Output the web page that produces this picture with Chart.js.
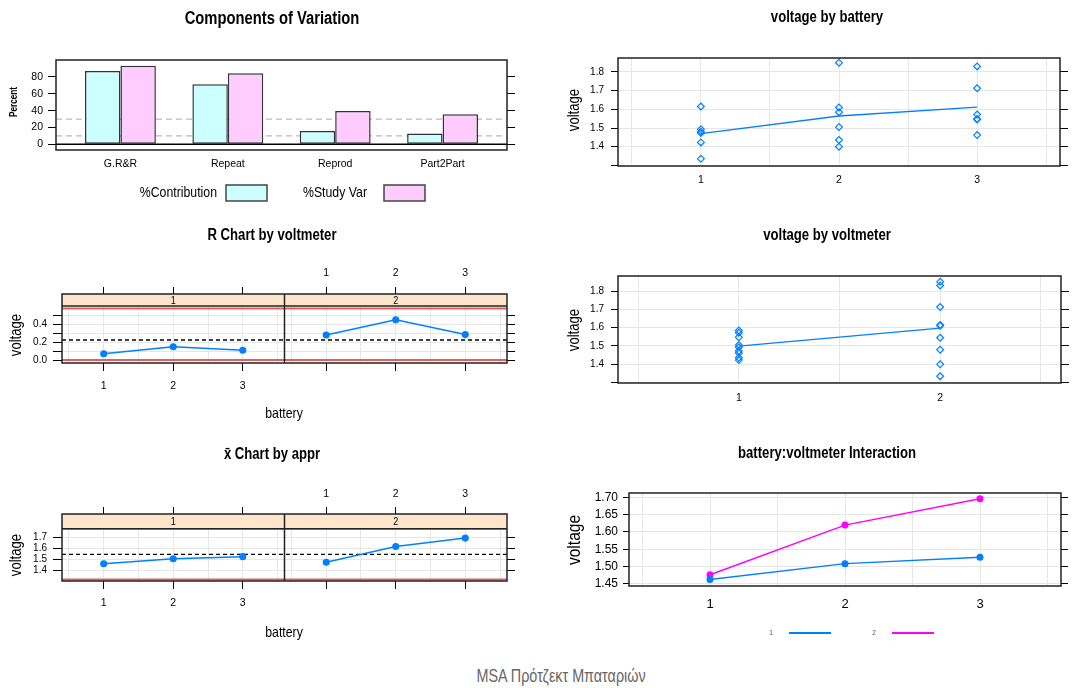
<!DOCTYPE html>
<html>
<head>
<meta charset="utf-8">
<script src="https://cdn.jsdelivr.net/npm/chart.js@4.4.1/dist/chart.umd.min.js"></script>
<style>
  body { margin: 0; background: #fff; width: 1084px; height: 688px; position: relative; overflow: hidden;
         font-family: "Liberation Sans", Arial, sans-serif; }
  canvas { position: absolute; }
  #footer { position: absolute; left: 0; width: 1122px; top: 666px; text-align: center; color: #666; font-size: 17.5px; }
  #footer span { display: inline-block; transform: scaleX(0.82); }
</style>
</head>
<body>
<canvas id="cov" width="540" height="215" style="left:0;top:0"></canvas>
<canvas id="byBattery" width="544" height="200" style="left:540px;top:0"></canvas>
<canvas id="rChart" width="540" height="220" style="left:0;top:220px"></canvas>
<canvas id="byMeter" width="544" height="200" style="left:540px;top:220px"></canvas>
<canvas id="xbarChart" width="540" height="215" style="left:0;top:440px"></canvas>
<canvas id="interaction" width="544" height="210" style="left:540px;top:440px"></canvas>
<div id="footer"><span>MSA Πρότζεκτ Μπαταριών</span></div>
<script>
// gauge study: 3 batteries, 2 voltmeters, 3 readings per cell
const batteries = [1, 2, 3];
const voltmeters = [1, 2];
const readingsVm1 = [[1.423, 1.473, 1.493], [1.436, 1.505, 1.585], [1.462, 1.548, 1.572]];
const readingsVm2 = [[1.335, 1.480, 1.615], [1.400, 1.610, 1.850], [1.545, 1.713, 1.830]];

const components = ['G.R&R', 'Repeat', 'Reprod', 'Part2Part'];
const pctContribution = [87.2, 71.4, 15.8, 12.8];
const pctStudyVar = [93.4, 84.5, 39.7, 35.8];
const pctTicks = [0, 20, 40, 60, 80];
const pctRefLines = [10, 30];

const voltTicks = [1.3, 1.4, 1.5, 1.6, 1.7, 1.8];
const rangeTicks = [0, 0.1, 0.2, 0.3, 0.4, 0.5];
const xbarTicks = [1.4, 1.5, 1.6, 1.7];
const interTicks = [1.45, 1.5, 1.55, 1.6, 1.65, 1.7];

// control chart constants, subgroup size 3
const D3 = 0, D4 = 2.574, A2 = 1.023;

const INK = '#000', GRID = '#e6e6e6', BLUE = '#0080ff', PINK = '#ff00ff';
const CYAN = '#ccffff', LILAC = '#ffccff', STRIP = '#ffe5cc', LIMIT = '#e06060';
const SANS = '"Liberation Sans", Arial, sans-serif';
const SQUEEZE = 0.82; // narrow look for titles and labels
const PANEL = 3.2;    // one lattice panel spans 0.4..3.6 battery units

Chart.defaults.font.family = SANS;
Chart.defaults.color = INK;

const mean = a => a.reduce((s, v) => s + v, 0) / a.length;
const spread = a => Math.max(...a) - Math.min(...a);
const meansVm1 = readingsVm1.map(mean), meansVm2 = readingsVm2.map(mean);
const rangesVm1 = readingsVm1.map(spread), rangesVm2 = readingsVm2.map(spread);
const rBar = mean([...rangesVm1, ...rangesVm2]);
const xBarBar = mean([...meansVm1, ...meansVm2]);

// ---------- helpers ----------
function fixSize(px) { return s => { if (s.isHorizontal()) s.height = px; else s.width = px; }; }
function ticksAt(vals) { return s => { s.ticks = vals.map(v => ({ value: v })); }; }
function halfSteps(from, to, shift = 0) {
  const out = [];
  for (let v = from; v <= to + 1e-9; v += 0.5) out.push(Math.round((v + shift) * 100) / 100);
  return out;
}
function whole(v) { return Math.abs(v - Math.round(v)) < 1e-6 ? Math.round(v) : null; }
function localX(v) { return v > PANEL + 0.4 ? v - PANEL : v; }

function text(ctx, s, x, y, font, o = {}) {
  ctx.save();
  ctx.font = `${font} ${SANS}`;
  ctx.fillStyle = o.color || INK;
  ctx.textAlign = o.align || 'center';
  ctx.textBaseline = 'middle';
  ctx.translate(x, y);
  if (o.rotate) ctx.rotate(-Math.PI / 2);
  ctx.scale(SQUEEZE, 1);
  ctx.fillText(s, 0, 0);
  ctx.restore();
}
function hline(ctx, x1, x2, y, color, width, dash) {
  ctx.save();
  ctx.strokeStyle = color; ctx.lineWidth = width; ctx.setLineDash(dash || []);
  ctx.beginPath(); ctx.moveTo(x1, y); ctx.lineTo(x2, y); ctx.stroke();
  ctx.restore();
}
function frame(chart) {
  const { ctx, chartArea: a } = chart;
  ctx.save();
  ctx.strokeStyle = '#222'; ctx.lineWidth = 1.5;
  ctx.strokeRect(a.left, a.top, a.right - a.left, a.bottom - a.top);
  ctx.restore();
}

function yScale(o) {
  return {
    min: o.min, max: o.max, afterBuildTicks: ticksAt(o.ticks), afterFit: fixSize(o.width),
    ticks: { autoSkip: false, padding: o.pad, font: { size: o.size }, color: INK, callback: o.label },
    grid: { color: GRID, drawOnChartArea: o.grid !== false, tickLength: o.tickLen, tickColor: INK },
    border: { display: false }
  };
}
function yRight(o) {
  return {
    position: 'right', min: o.min, max: o.max, afterBuildTicks: ticksAt(o.ticks), afterFit: fixSize(o.width),
    ticks: { display: false },
    grid: { drawOnChartArea: false, tickLength: o.tickLen, tickColor: INK },
    border: { display: false }
  };
}
function xScale(o) {
  return {
    type: 'linear', position: o.position || 'bottom', min: o.min, max: o.max, offset: false,
    afterBuildTicks: ticksAt(o.ticks), afterFit: fixSize(o.height),
    ticks: { autoSkip: false, maxRotation: 0, padding: o.pad, font: { size: o.size }, color: INK, callback: o.label },
    grid: {
      color: GRID, drawOnChartArea: o.grid !== false,
      drawTicks: !!o.tickLen, tickLength: o.tickLen || 0, tickColor: o.tickColor || INK
    },
    border: { display: false }
  };
}
const common = {
  responsive: false, animation: false, devicePixelRatio: 1,
  plugins: { legend: { display: false }, tooltip: { enabled: false } }
};

// ---------- Components of Variation ----------
new Chart(document.getElementById('cov'), {
  type: 'bar',
  data: {
    datasets: [
      { label: '%Contribution', data: pctContribution.map((v, i) => ({ x: i + 1, y: v })),
        backgroundColor: CYAN, borderColor: '#333', borderWidth: 1.5, borderSkipped: false },
      { label: '%Study Var', data: pctStudyVar.map((v, i) => ({ x: i + 1, y: v })),
        backgroundColor: LILAC, borderColor: '#333', borderWidth: 1.5, borderSkipped: false }
    ]
  },
  options: {
    ...common,
    layout: { padding: { top: 60, right: 23, left: 0, bottom: 0 } },
    datasets: { bar: { categoryPercentage: 0.66, barPercentage: 1 } },
    scales: {
      x: xScale({ min: 0.4, max: 4.6, ticks: components.map((c, i) => i + 1), height: 65, pad: 7.5, size: 10.5,
                  grid: false, label: v => components[v - 1] }),
      y: yScale({ min: -6.8, max: 100.2, ticks: pctTicks, width: 56, pad: 5, size: 10.5, tickLen: 8,
                  grid: false, label: v => String(v) }),
      y2: yRight({ min: -6.8, max: 100.2, ticks: pctTicks, width: 10, tickLen: 8 })
    }
  },
  plugins: [{
    id: 'covDecor',
    beforeDatasetsDraw(chart) {
      const { ctx, chartArea: a, scales: { y } } = chart;
      pctRefLines.forEach(v => hline(ctx, a.left, a.right, y.getPixelForValue(v), '#bbb', 1.2, [6, 4]));
    },
    afterDraw(chart) {
      const { ctx, chartArea: a, scales: { y } } = chart;
      hline(ctx, a.left, a.right, y.getPixelForValue(0), INK, 1.5);
      frame(chart);
      text(ctx, 'Components of Variation', 272, 19, 'bold 18px');
      text(ctx, 'Percent', 14, 102, 'bold 10px', { rotate: true });
      const legend = [['%Contribution', CYAN, 217, 226], ['%Study Var', LILAC, 367, 384]];
      legend.forEach(([label, fill, tx, bx]) => {
        text(ctx, label, tx, 193, '15px', { align: 'right' });
        ctx.save();
        ctx.fillStyle = fill; ctx.fillRect(bx, 185, 41, 16);
        ctx.strokeStyle = '#444'; ctx.lineWidth = 1.5; ctx.strokeRect(bx, 185, 41, 16);
        ctx.restore();
      });
    }
  }]
});

// ---------- strip scatter plots (voltage by battery / by voltmeter) ----------
function stripPlot(id, o) {
  new Chart(document.getElementById(id), {
    type: 'scatter',
    data: {
      datasets: [
        { data: o.points, pointStyle: 'rectRot', pointRadius: 3.4, borderWidth: 1.2,
          borderColor: BLUE, backgroundColor: 'rgba(0,0,0,0)' },
        { data: o.means, showLine: true, borderColor: BLUE, borderWidth: 1.3, pointRadius: 0 }
      ]
    },
    options: {
      ...common,
      layout: { padding: { top: o.top, right: o.padR, left: 0, bottom: 0 } },
      scales: {
        x: xScale({ min: 0.4, max: o.xMax, ticks: halfSteps(0.5, o.xMax - 0.1), height: o.xH, pad: o.xPad, size: 10.5,
                    label: v => whole(v) !== null ? String(whole(v)) : '' }),
        y: yScale({ min: o.yMin, max: o.yMax, ticks: voltTicks, width: o.left, pad: 7, size: 10, tickLen: 7,
                    label: (v, i) => (i === 0 ? '' : v.toFixed(1)) }),
        y2: yRight({ min: o.yMin, max: o.yMax, ticks: voltTicks, width: 8, tickLen: 8 })
      }
    },
    plugins: [{
      id: 'stripDecor',
      afterDraw(chart) {
        const { ctx } = chart;
        frame(chart);
        text(ctx, o.title, 287, o.titleY, 'bold 16px');
        text(ctx, 'voltage', 35, 110, '16px', { rotate: true });
      }
    }]
  });
}

stripPlot('byBattery', {
  title: 'voltage by battery', titleY: 18, top: 58, padR: 16, left: 78, xH: 34, xPad: 7.8,
  xMax: 3.6, yMin: 1.2965, yMax: 1.8749,
  points: batteries.flatMap((b, i) => [...readingsVm1[i], ...readingsVm2[i]].map(v => ({ x: b, y: v }))),
  means: batteries.map((b, i) => ({ x: b, y: mean([...readingsVm1[i], ...readingsVm2[i]]) }))
});

const byMeter = [readingsVm1.flat(), readingsVm2.flat()];
stripPlot('byMeter', {
  title: 'voltage by voltmeter', titleY: 16, top: 56, padR: 15, left: 78, xH: 37, xPad: 9,
  xMax: 2.6, yMin: 1.2981, yMax: 1.8819,
  points: voltmeters.flatMap((m, k) => byMeter[k].map(v => ({ x: m, y: v }))),
  means: voltmeters.map((m, k) => ({ x: m, y: mean(byMeter[k]) }))
});

// ---------- control charts, one lattice panel per voltmeter ----------
function controlChart(id, o) {
  const xMax = 0.4 + 2 * PANEL;
  const gridX = [...halfSteps(0.5, 3.5), ...halfSteps(0.5, 3.5, PANEL)];
  const marks = batteries.flatMap(b => [b, b + PANEL]).sort((p, q) => p - q);
  new Chart(document.getElementById(id), {
    type: 'scatter',
    data: {
      datasets: o.series.map((vals, k) => ({
        data: batteries.map((b, i) => ({ x: b + k * PANEL, y: vals[i] })),
        showLine: true, borderColor: BLUE, backgroundColor: BLUE, borderWidth: 1.5,
        pointRadius: 2.8, pointStyle: 'circle'
      }))
    },
    options: {
      ...common,
      layout: { padding: { top: 44, right: 25, left: 0, bottom: 0 } },
      scales: {
        x: xScale({ min: 0.4, max: xMax, ticks: gridX, height: o.bottomH, pad: o.xPad, size: 10.5, tickLen: 8,
                    label: v => (v < PANEL + 0.4 && whole(v) !== null ? String(whole(v)) : ''),
                    tickColor: c => (c.tick && whole(localX(c.tick.value)) !== null ? INK : 'rgba(0,0,0,0)') }),
        x2: xScale({ position: 'top', min: 0.4, max: xMax, ticks: marks, height: 30, pad: o.topPad, size: 10.5,
                     tickLen: 7, grid: false,
                     label: v => (v > PANEL + 0.4 ? String(Math.round(v - PANEL)) : '') }),
        y: yScale({ min: o.yMin, max: o.yMax, ticks: o.yTicks, width: 62, pad: 6, size: 10, tickLen: 9,
                    label: o.yLabel }),
        y2: yRight({ min: o.yMin, max: o.yMax, ticks: o.yTicks, width: 8, tickLen: 8 })
      }
    },
    plugins: [{
      id: 'latticeDecor',
      beforeDatasetsDraw(chart) {
        const { ctx, chartArea: a, scales: { y } } = chart;
        const sb = y.getPixelForValue(o.stripBottom);
        ctx.save(); ctx.fillStyle = STRIP; ctx.fillRect(a.left, a.top, a.right - a.left, sb - a.top); ctx.restore();
        hline(ctx, a.left, a.right, y.getPixelForValue(o.ucl), LIMIT, 2);
        hline(ctx, a.left, a.right, y.getPixelForValue(o.lcl), LIMIT, 2);
        hline(ctx, a.left, a.right, y.getPixelForValue(o.center), INK, 1.3, [4, 3]);
      },
      afterDraw(chart) {
        const { ctx, chartArea: a, scales: { x, y } } = chart;
        const sb = y.getPixelForValue(o.stripBottom);
        const mid = x.getPixelForValue(PANEL + 0.4);
        frame(chart);
        hline(ctx, a.left, a.right, sb, '#222', 1.3);
        ctx.save();
        ctx.strokeStyle = '#222'; ctx.lineWidth = 1.5;
        ctx.beginPath(); ctx.moveTo(mid, a.top); ctx.lineTo(mid, a.bottom); ctx.stroke();
        ctx.restore();
        voltmeters.forEach((m, k) => {
          text(ctx, String(m), x.getPixelForValue(2 + k * PANEL), (a.top + sb) / 2 + 0.5, '11px');
        });
        text(ctx, o.title, 272, o.titleY, 'bold 16px');
        text(ctx, 'voltage', 17, 115, '16px', { rotate: true });
        text(ctx, 'battery', 284, o.batteryY, '15px');
      }
    }]
  });
}

controlChart('rChart', {
  title: 'R Chart by voltmeter', titleY: 16, batteryY: 194,
  series: [rangesVm1, rangesVm2],
  yMin: -0.0336, yMax: 0.740, stripBottom: 0.6056, yTicks: rangeTicks,
  yLabel: (v, i) => (i % 2 === 0 ? v.toFixed(1) : ''),
  center: rBar, ucl: D4 * rBar, lcl: D3 * rBar,
  bottomH: 77, xPad: 8.6, topPad: 7.2
});

controlChart('xbarChart', {
  title: 'x\u0304 Chart by appr', titleY: 15, batteryY: 193,
  series: [meansVm1, meansVm2],
  yMin: 1.3061, yMax: 1.9152, stripBottom: 1.7818, yTicks: xbarTicks,
  yLabel: v => v.toFixed(1),
  center: xBarBar, ucl: xBarBar + A2 * rBar, lcl: xBarBar - A2 * rBar,
  bottomH: 74, xPad: 8, topPad: 6.2
});

// ---------- battery:voltmeter interaction ----------
new Chart(document.getElementById('interaction'), {
  type: 'scatter',
  data: {
    datasets: [meansVm1, meansVm2].map((vals, k) => ({
      data: batteries.map((b, i) => ({ x: b, y: vals[i] })),
      showLine: true, borderColor: [BLUE, PINK][k], backgroundColor: [BLUE, PINK][k],
      borderWidth: 1.4, pointRadius: 2.8
    }))
  },
  options: {
    ...common,
    layout: { padding: { top: 53, right: 16, left: 0, bottom: 0 } },
    scales: {
      x: xScale({ min: 0.4, max: 3.6, ticks: halfSteps(0.5, 3.5), height: 64, pad: 11, size: 13,
                  label: v => (whole(v) !== null ? String(whole(v)) : '') }),
      y: yScale({ min: 1.4442, max: 1.7125, ticks: interTicks, width: 89, pad: 5, size: 12, tickLen: 6,
                  label: v => v.toFixed(2) }),
      y2: yRight({ min: 1.4442, max: 1.7125, ticks: interTicks, width: 7, tickLen: 7 })
    }
  },
  plugins: [{
    id: 'interDecor',
    afterDraw(chart) {
      const { ctx } = chart;
      frame(chart);
      text(ctx, 'battery:voltmeter Interaction', 287, 14, 'bold 16px');
      text(ctx, 'voltage', 35, 100, '19px', { rotate: true });
      [[231, 249, BLUE], [334, 352, PINK]].forEach(([tx, lx, color], k) => {
        text(ctx, String(voltmeters[k]), tx, 193, '8px', { color: '#555' });
        hline(ctx, lx, lx + 42, 193, color, 1.8);
      });
    }
  }]
});
</script>
</body>
</html>
